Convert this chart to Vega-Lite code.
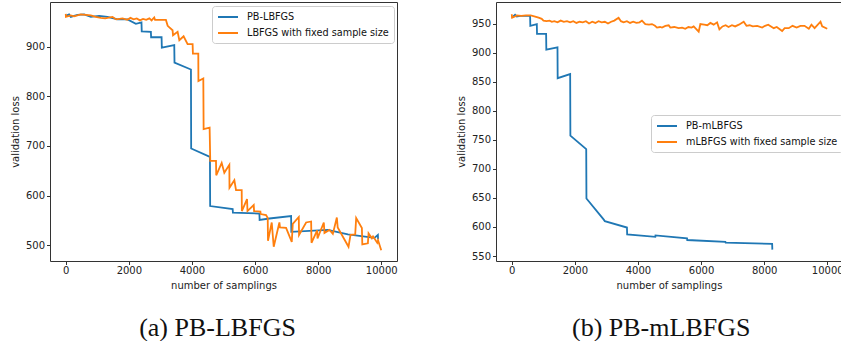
{
  "$schema": "https://vega.github.io/schema/vega-lite/v6.json",
  "padding": {"left": 9, "top": 1, "right": 0, "bottom": 0},
  "spacing": 57,
  "resolve": {"scale": {"color": "independent", "x": "independent", "y": "independent"}, "legend": {"color": "independent"}},
  "config": {
    "font": "DejaVu Sans",
    "view": {"stroke": "#333", "strokeWidth": 1},
    "axis": {"grid": false, "domain": false, "labelOverlap": false, "tickColor": "#333", "tickSize": 3.5, "labelFont": "DejaVu Sans", "labelFontSize": 10, "labelColor": "#222", "titleFont": "DejaVu Sans", "titleFontSize": 10, "titleFontWeight": "normal", "titleColor": "#222"},
    "axisX": {"labelPadding": 1, "titlePadding": 5},
    "axisY": {"labelPadding": 2, "titlePadding": 5},
    "legend": {"labelFont": "DejaVu Sans", "labelFontSize": 9.7, "labelColor": "#111", "strokeColor": "#cccccc", "fillColor": "#ffffff", "cornerRadius": 3, "padding": 5, "symbolSize": 100, "symbolStrokeWidth": 2, "labelOffset": 18, "rowPadding": 5},
    "title": {"font": "Liberation Serif", "fontSize": 26, "fontWeight": "normal", "color": "#111"}
  },
  "hconcat": [
    {
      "width": 347,
      "height": 259,
      "title": {"text": "(a) PB-LBFGS", "orient": "bottom", "frame": "group", "anchor": "middle", "dx": -6, "offset": 24},
      "data": {"values": [
        {"series": "PB-LBFGS", "x": 0, "y": 962}, {"series": "PB-LBFGS", "x": 106, "y": 965}, {"series": "PB-LBFGS", "x": 159, "y": 960}, {"series": "PB-LBFGS", "x": 370, "y": 964}, {"series": "PB-LBFGS", "x": 582, "y": 965}, {"series": "PB-LBFGS", "x": 794, "y": 960}, {"series": "PB-LBFGS", "x": 1058, "y": 962}, {"series": "PB-LBFGS", "x": 1323, "y": 960}, {"series": "PB-LBFGS", "x": 1640, "y": 955}, {"series": "PB-LBFGS", "x": 1958, "y": 955}, {"series": "PB-LBFGS", "x": 2222, "y": 946}, {"series": "PB-LBFGS", "x": 2400, "y": 949}, {"series": "PB-LBFGS", "x": 2408, "y": 931}, {"series": "PB-LBFGS", "x": 2698, "y": 930}, {"series": "PB-LBFGS", "x": 2705, "y": 919}, {"series": "PB-LBFGS", "x": 3037, "y": 919}, {"series": "PB-LBFGS", "x": 3045, "y": 898}, {"series": "PB-LBFGS", "x": 3439, "y": 903}, {"series": "PB-LBFGS", "x": 3447, "y": 868}, {"series": "PB-LBFGS", "x": 3968, "y": 854}, {"series": "PB-LBFGS", "x": 3975, "y": 695}, {"series": "PB-LBFGS", "x": 4570, "y": 678}, {"series": "PB-LBFGS", "x": 4577, "y": 579}, {"series": "PB-LBFGS", "x": 5291, "y": 573}, {"series": "PB-LBFGS", "x": 5298, "y": 566}, {"series": "PB-LBFGS", "x": 6138, "y": 564}, {"series": "PB-LBFGS", "x": 6145, "y": 551}, {"series": "PB-LBFGS", "x": 6455, "y": 554}, {"series": "PB-LBFGS", "x": 7143, "y": 559}, {"series": "PB-LBFGS", "x": 7150, "y": 527}, {"series": "PB-LBFGS", "x": 8307, "y": 531}, {"series": "PB-LBFGS", "x": 8942, "y": 522}, {"series": "PB-LBFGS", "x": 9788, "y": 515}, {"series": "PB-LBFGS", "x": 9894, "y": 521}, {"series": "PB-LBFGS", "x": 9900, "y": 512},
        {"series": "LBFGS with fixed sample size", "x": 0, "y": 966}, {"series": "LBFGS with fixed sample size", "x": 5, "y": 960}, {"series": "LBFGS with fixed sample size", "x": 159, "y": 963}, {"series": "LBFGS with fixed sample size", "x": 265, "y": 961}, {"series": "LBFGS with fixed sample size", "x": 476, "y": 965}, {"series": "LBFGS with fixed sample size", "x": 794, "y": 963}, {"series": "LBFGS with fixed sample size", "x": 950, "y": 960}, {"series": "LBFGS with fixed sample size", "x": 1111, "y": 958}, {"series": "LBFGS with fixed sample size", "x": 1250, "y": 957}, {"series": "LBFGS with fixed sample size", "x": 1481, "y": 960}, {"series": "LBFGS with fixed sample size", "x": 1600, "y": 955}, {"series": "LBFGS with fixed sample size", "x": 1800, "y": 957}, {"series": "LBFGS with fixed sample size", "x": 1950, "y": 954}, {"series": "LBFGS with fixed sample size", "x": 2050, "y": 958}, {"series": "LBFGS with fixed sample size", "x": 2150, "y": 955}, {"series": "LBFGS with fixed sample size", "x": 2250, "y": 957}, {"series": "LBFGS with fixed sample size", "x": 2350, "y": 953}, {"series": "LBFGS with fixed sample size", "x": 2450, "y": 956}, {"series": "LBFGS with fixed sample size", "x": 2550, "y": 954}, {"series": "LBFGS with fixed sample size", "x": 2650, "y": 957}, {"series": "LBFGS with fixed sample size", "x": 2720, "y": 953}, {"series": "LBFGS with fixed sample size", "x": 2804, "y": 959}, {"series": "LBFGS with fixed sample size", "x": 2830, "y": 954}, {"series": "LBFGS with fixed sample size", "x": 3175, "y": 954}, {"series": "LBFGS with fixed sample size", "x": 3230, "y": 942}, {"series": "LBFGS with fixed sample size", "x": 3386, "y": 933}, {"series": "LBFGS with fixed sample size", "x": 3400, "y": 923}, {"series": "LBFGS with fixed sample size", "x": 3545, "y": 930}, {"series": "LBFGS with fixed sample size", "x": 3600, "y": 913}, {"series": "LBFGS with fixed sample size", "x": 3735, "y": 921}, {"series": "LBFGS with fixed sample size", "x": 3862, "y": 905}, {"series": "LBFGS with fixed sample size", "x": 4021, "y": 905}, {"series": "LBFGS with fixed sample size", "x": 4030, "y": 886}, {"series": "LBFGS with fixed sample size", "x": 4201, "y": 886}, {"series": "LBFGS with fixed sample size", "x": 4205, "y": 831}, {"series": "LBFGS with fixed sample size", "x": 4360, "y": 836}, {"series": "LBFGS with fixed sample size", "x": 4370, "y": 734}, {"series": "LBFGS with fixed sample size", "x": 4560, "y": 737}, {"series": "LBFGS with fixed sample size", "x": 4580, "y": 670}, {"series": "LBFGS with fixed sample size", "x": 4762, "y": 670}, {"series": "LBFGS with fixed sample size", "x": 4770, "y": 641}, {"series": "LBFGS with fixed sample size", "x": 4942, "y": 666}, {"series": "LBFGS with fixed sample size", "x": 5026, "y": 646}, {"series": "LBFGS with fixed sample size", "x": 5185, "y": 662}, {"series": "LBFGS with fixed sample size", "x": 5190, "y": 616}, {"series": "LBFGS with fixed sample size", "x": 5344, "y": 631}, {"series": "LBFGS with fixed sample size", "x": 5397, "y": 611}, {"series": "LBFGS with fixed sample size", "x": 5577, "y": 611}, {"series": "LBFGS with fixed sample size", "x": 5582, "y": 569}, {"series": "LBFGS with fixed sample size", "x": 5746, "y": 593}, {"series": "LBFGS with fixed sample size", "x": 5760, "y": 569}, {"series": "LBFGS with fixed sample size", "x": 5958, "y": 581}, {"series": "LBFGS with fixed sample size", "x": 5970, "y": 569}, {"series": "LBFGS with fixed sample size", "x": 6169, "y": 568}, {"series": "LBFGS with fixed sample size", "x": 6180, "y": 563}, {"series": "LBFGS with fixed sample size", "x": 6349, "y": 561}, {"series": "LBFGS with fixed sample size", "x": 6402, "y": 555}, {"series": "LBFGS with fixed sample size", "x": 6410, "y": 509}, {"series": "LBFGS with fixed sample size", "x": 6529, "y": 546}, {"series": "LBFGS with fixed sample size", "x": 6592, "y": 497}, {"series": "LBFGS with fixed sample size", "x": 6772, "y": 546}, {"series": "LBFGS with fixed sample size", "x": 6790, "y": 536}, {"series": "LBFGS with fixed sample size", "x": 6984, "y": 535}, {"series": "LBFGS with fixed sample size", "x": 7164, "y": 507}, {"series": "LBFGS with fixed sample size", "x": 7196, "y": 543}, {"series": "LBFGS with fixed sample size", "x": 7386, "y": 557}, {"series": "LBFGS with fixed sample size", "x": 7395, "y": 521}, {"series": "LBFGS with fixed sample size", "x": 7619, "y": 546}, {"series": "LBFGS with fixed sample size", "x": 7778, "y": 548}, {"series": "LBFGS with fixed sample size", "x": 7790, "y": 505}, {"series": "LBFGS with fixed sample size", "x": 7968, "y": 530}, {"series": "LBFGS with fixed sample size", "x": 7980, "y": 514}, {"series": "LBFGS with fixed sample size", "x": 8180, "y": 546}, {"series": "LBFGS with fixed sample size", "x": 8200, "y": 525}, {"series": "LBFGS with fixed sample size", "x": 8360, "y": 531}, {"series": "LBFGS with fixed sample size", "x": 8466, "y": 523}, {"series": "LBFGS with fixed sample size", "x": 8593, "y": 556}, {"series": "LBFGS with fixed sample size", "x": 8620, "y": 536}, {"series": "LBFGS with fixed sample size", "x": 8963, "y": 497}, {"series": "LBFGS with fixed sample size", "x": 9026, "y": 521}, {"series": "LBFGS with fixed sample size", "x": 9175, "y": 522}, {"series": "LBFGS with fixed sample size", "x": 9206, "y": 555}, {"series": "LBFGS with fixed sample size", "x": 9387, "y": 535}, {"series": "LBFGS with fixed sample size", "x": 9400, "y": 502}, {"series": "LBFGS with fixed sample size", "x": 9577, "y": 504}, {"series": "LBFGS with fixed sample size", "x": 9598, "y": 524}, {"series": "LBFGS with fixed sample size", "x": 9704, "y": 514}, {"series": "LBFGS with fixed sample size", "x": 9740, "y": 518}, {"series": "LBFGS with fixed sample size", "x": 9873, "y": 505}, {"series": "LBFGS with fixed sample size", "x": 9900, "y": 510}, {"series": "LBFGS with fixed sample size", "x": 10000, "y": 490}
      ]},
      "mark": {"type": "line", "strokeWidth": 1.8},
      "encoding": {
        "x": {"field": "x", "type": "quantitative", "scale": {"domain": [-500, 10500], "nice": false, "zero": false}, "axis": {"values": [0, 2000, 4000, 6000, 8000, 10000], "format": "d", "title": "number of samplings"}},
        "y": {"field": "y", "type": "quantitative", "scale": {"domain": [468.4, 990], "nice": false, "zero": false}, "axis": {"values": [500, 600, 700, 800, 900], "format": "d", "title": "validation loss", "labelOverlap": false}},
        "color": {"field": "series", "type": "nominal", "scale": {"domain": ["PB-LBFGS", "LBFGS with fixed sample size"], "range": ["#1f77b4", "#ff7f0e"]}, "legend": {"orient": "none", "legendX": 162, "legendY": 4, "title": null, "symbolType": "M-1,0H3"}}
      }
    },
    {
      "width": 347,
      "height": 259,
      "title": {"text": "(b) PB-mLBFGS", "orient": "bottom", "frame": "group", "anchor": "start", "dx": 76, "offset": 24},
      "data": {"values": [
        {"series": "PB-mLBFGS", "x": 0, "y": 960}, {"series": "PB-mLBFGS", "x": 105, "y": 965}, {"series": "PB-mLBFGS", "x": 160, "y": 962}, {"series": "PB-mLBFGS", "x": 263, "y": 963}, {"series": "PB-mLBFGS", "x": 581, "y": 963}, {"series": "PB-mLBFGS", "x": 588, "y": 946}, {"series": "PB-mLBFGS", "x": 794, "y": 949}, {"series": "PB-mLBFGS", "x": 800, "y": 932}, {"series": "PB-mLBFGS", "x": 1089, "y": 932}, {"series": "PB-mLBFGS", "x": 1095, "y": 905}, {"series": "PB-mLBFGS", "x": 1449, "y": 909}, {"series": "PB-mLBFGS", "x": 1455, "y": 856}, {"series": "PB-mLBFGS", "x": 1851, "y": 863}, {"series": "PB-mLBFGS", "x": 1858, "y": 757}, {"series": "PB-mLBFGS", "x": 2360, "y": 734}, {"series": "PB-mLBFGS", "x": 2367, "y": 649}, {"series": "PB-mLBFGS", "x": 2910, "y": 613}, {"series": "PB-mLBFGS", "x": 2950, "y": 610}, {"series": "PB-mLBFGS", "x": 3651, "y": 599}, {"series": "PB-mLBFGS", "x": 3658, "y": 587}, {"series": "PB-mLBFGS", "x": 4550, "y": 583}, {"series": "PB-mLBFGS", "x": 4556, "y": 585.5}, {"series": "PB-mLBFGS", "x": 5556, "y": 580.5}, {"series": "PB-mLBFGS", "x": 5563, "y": 577.5}, {"series": "PB-mLBFGS", "x": 6772, "y": 574.3}, {"series": "PB-mLBFGS", "x": 6780, "y": 573}, {"series": "PB-mLBFGS", "x": 8254, "y": 571}, {"series": "PB-mLBFGS", "x": 8260, "y": 561},
        {"series": "mLBFGS with fixed sample size", "x": 0, "y": 966}, {"series": "mLBFGS with fixed sample size", "x": 10, "y": 960}, {"series": "mLBFGS with fixed sample size", "x": 100, "y": 962}, {"series": "mLBFGS with fixed sample size", "x": 159, "y": 964}, {"series": "mLBFGS with fixed sample size", "x": 300, "y": 963}, {"series": "mLBFGS with fixed sample size", "x": 450, "y": 964}, {"series": "mLBFGS with fixed sample size", "x": 600, "y": 964}, {"series": "mLBFGS with fixed sample size", "x": 741, "y": 962}, {"series": "mLBFGS with fixed sample size", "x": 850, "y": 960}, {"series": "mLBFGS with fixed sample size", "x": 950, "y": 958}, {"series": "mLBFGS with fixed sample size", "x": 1005, "y": 955}, {"series": "mLBFGS with fixed sample size", "x": 1100, "y": 954}, {"series": "mLBFGS with fixed sample size", "x": 1200, "y": 955}, {"series": "mLBFGS with fixed sample size", "x": 1270, "y": 953}, {"series": "mLBFGS with fixed sample size", "x": 1350, "y": 954}, {"series": "mLBFGS with fixed sample size", "x": 1450, "y": 952}, {"series": "mLBFGS with fixed sample size", "x": 1550, "y": 955}, {"series": "mLBFGS with fixed sample size", "x": 1650, "y": 953}, {"series": "mLBFGS with fixed sample size", "x": 1750, "y": 954}, {"series": "mLBFGS with fixed sample size", "x": 1850, "y": 952}, {"series": "mLBFGS with fixed sample size", "x": 1950, "y": 954}, {"series": "mLBFGS with fixed sample size", "x": 2050, "y": 951}, {"series": "mLBFGS with fixed sample size", "x": 2150, "y": 953}, {"series": "mLBFGS with fixed sample size", "x": 2250, "y": 952}, {"series": "mLBFGS with fixed sample size", "x": 2350, "y": 954}, {"series": "mLBFGS with fixed sample size", "x": 2450, "y": 950}, {"series": "mLBFGS with fixed sample size", "x": 2550, "y": 953}, {"series": "mLBFGS with fixed sample size", "x": 2650, "y": 951}, {"series": "mLBFGS with fixed sample size", "x": 2750, "y": 954}, {"series": "mLBFGS with fixed sample size", "x": 2850, "y": 952}, {"series": "mLBFGS with fixed sample size", "x": 2950, "y": 953}, {"series": "mLBFGS with fixed sample size", "x": 3050, "y": 950}, {"series": "mLBFGS with fixed sample size", "x": 3150, "y": 953}, {"series": "mLBFGS with fixed sample size", "x": 3250, "y": 955}, {"series": "mLBFGS with fixed sample size", "x": 3386, "y": 960}, {"series": "mLBFGS with fixed sample size", "x": 3460, "y": 954}, {"series": "mLBFGS with fixed sample size", "x": 3545, "y": 952}, {"series": "mLBFGS with fixed sample size", "x": 3650, "y": 954}, {"series": "mLBFGS with fixed sample size", "x": 3750, "y": 951}, {"series": "mLBFGS with fixed sample size", "x": 3850, "y": 953}, {"series": "mLBFGS with fixed sample size", "x": 3950, "y": 951}, {"series": "mLBFGS with fixed sample size", "x": 4050, "y": 952}, {"series": "mLBFGS with fixed sample size", "x": 4127, "y": 955}, {"series": "mLBFGS with fixed sample size", "x": 4233, "y": 949}, {"series": "mLBFGS with fixed sample size", "x": 4350, "y": 948}, {"series": "mLBFGS with fixed sample size", "x": 4444, "y": 949}, {"series": "mLBFGS with fixed sample size", "x": 4540, "y": 946}, {"series": "mLBFGS with fixed sample size", "x": 4603, "y": 943}, {"series": "mLBFGS with fixed sample size", "x": 4700, "y": 944}, {"series": "mLBFGS with fixed sample size", "x": 4762, "y": 943}, {"series": "mLBFGS with fixed sample size", "x": 4870, "y": 946}, {"series": "mLBFGS with fixed sample size", "x": 4974, "y": 947}, {"series": "mLBFGS with fixed sample size", "x": 5026, "y": 943}, {"series": "mLBFGS with fixed sample size", "x": 5150, "y": 944}, {"series": "mLBFGS with fixed sample size", "x": 5290, "y": 942}, {"series": "mLBFGS with fixed sample size", "x": 5400, "y": 943}, {"series": "mLBFGS with fixed sample size", "x": 5500, "y": 941}, {"series": "mLBFGS with fixed sample size", "x": 5600, "y": 944}, {"series": "mLBFGS with fixed sample size", "x": 5700, "y": 943}, {"series": "mLBFGS with fixed sample size", "x": 5766, "y": 945}, {"series": "mLBFGS with fixed sample size", "x": 5925, "y": 936}, {"series": "mLBFGS with fixed sample size", "x": 5978, "y": 949}, {"series": "mLBFGS with fixed sample size", "x": 6100, "y": 948}, {"series": "mLBFGS with fixed sample size", "x": 6200, "y": 947}, {"series": "mLBFGS with fixed sample size", "x": 6296, "y": 951}, {"series": "mLBFGS with fixed sample size", "x": 6400, "y": 948}, {"series": "mLBFGS with fixed sample size", "x": 6508, "y": 952}, {"series": "mLBFGS with fixed sample size", "x": 6582, "y": 940}, {"series": "mLBFGS with fixed sample size", "x": 6680, "y": 945}, {"series": "mLBFGS with fixed sample size", "x": 6780, "y": 947}, {"series": "mLBFGS with fixed sample size", "x": 6870, "y": 944}, {"series": "mLBFGS with fixed sample size", "x": 6980, "y": 947}, {"series": "mLBFGS with fixed sample size", "x": 7080, "y": 945}, {"series": "mLBFGS with fixed sample size", "x": 7200, "y": 948}, {"series": "mLBFGS with fixed sample size", "x": 7352, "y": 953}, {"series": "mLBFGS with fixed sample size", "x": 7440, "y": 946}, {"series": "mLBFGS with fixed sample size", "x": 7540, "y": 947}, {"series": "mLBFGS with fixed sample size", "x": 7640, "y": 945}, {"series": "mLBFGS with fixed sample size", "x": 7780, "y": 946}, {"series": "mLBFGS with fixed sample size", "x": 7937, "y": 943}, {"series": "mLBFGS with fixed sample size", "x": 8030, "y": 946}, {"series": "mLBFGS with fixed sample size", "x": 8130, "y": 948}, {"series": "mLBFGS with fixed sample size", "x": 8305, "y": 942}, {"series": "mLBFGS with fixed sample size", "x": 8400, "y": 944}, {"series": "mLBFGS with fixed sample size", "x": 8571, "y": 937}, {"series": "mLBFGS with fixed sample size", "x": 8650, "y": 942}, {"series": "mLBFGS with fixed sample size", "x": 8780, "y": 942}, {"series": "mLBFGS with fixed sample size", "x": 8900, "y": 946}, {"series": "mLBFGS with fixed sample size", "x": 9030, "y": 943}, {"series": "mLBFGS with fixed sample size", "x": 9150, "y": 946}, {"series": "mLBFGS with fixed sample size", "x": 9280, "y": 946}, {"series": "mLBFGS with fixed sample size", "x": 9416, "y": 941}, {"series": "mLBFGS with fixed sample size", "x": 9500, "y": 948}, {"series": "mLBFGS with fixed sample size", "x": 9600, "y": 942}, {"series": "mLBFGS with fixed sample size", "x": 9787, "y": 953}, {"series": "mLBFGS with fixed sample size", "x": 9840, "y": 945}, {"series": "mLBFGS with fixed sample size", "x": 10000, "y": 941}
      ]},
      "mark": {"type": "line", "strokeWidth": 1.8},
      "encoding": {
        "x": {"field": "x", "type": "quantitative", "scale": {"domain": [-500, 10500], "nice": false, "zero": false}, "axis": {"values": [0, 2000, 4000, 6000, 8000, 10000], "format": "d", "title": "number of samplings", "titleAnchor": "start", "titleX": 120}},
        "y": {"field": "y", "type": "quantitative", "scale": {"domain": [541.4, 987], "nice": false, "zero": false}, "axis": {"values": [550, 600, 650, 700, 750, 800, 850, 900, 950], "format": "d", "title": "validation loss", "labelOverlap": false}},
        "color": {"field": "series", "type": "nominal", "scale": {"domain": ["PB-mLBFGS", "mLBFGS with fixed sample size"], "range": ["#1f77b4", "#ff7f0e"]}, "legend": {"orient": "none", "legendX": 155, "legendY": 113, "title": null, "symbolType": "M-1,0H3"}}
      }
    }
  ]
}
